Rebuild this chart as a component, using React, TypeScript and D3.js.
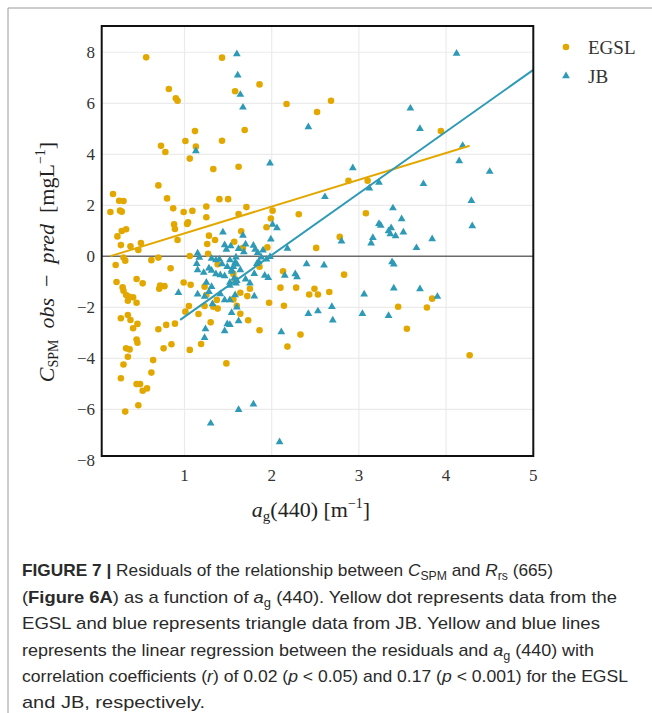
import React from "react";
import * as d3 from "d3";

const egslX = [0.56,1.43,0.82,0.90,0.92,1.58,1.12,1.01,1.43,0.73,0.78,1.13,1.06,1.33,1.62,1.86,2.17,2.52,2.68,1.69,3.94,3.10,2.88,3.84,3.45,3.78,3.55,4.27,
1.71,2.01,2.31,3.08,1.99,1.50,1.94,1.65,1.57,2.78,1.67,1.95,2.51,1.86,2.13,2.83,1.56,1.58,1.75,1.64,1.72,2.10,2.28,2.49,2.43,2.53,2.66,1.97,2.14,
1.64,1.73,1.86,2.33,2.18,
0.27,0.35,0.38,0.41,0.46,0.33,0.37,0.45,0.46,0.35,0.30,0.27,0.64,0.62,0.45,0.49,0.52,0.57,0.47,0.32,0.70,0.79,0.89,0.76,0.85,1.06,1.01,1.05,1.16,1.19,1.30,1.38,1.23,1.48,0.35,0.45,
0.70,0.18,0.80,0.25,0.30,0.15,0.26,0.28,0.87,0.99,1.09,1.25,1.40,1.62,1.25,1.04,1.03,0.88,0.89,0.92,0.28,0.33,0.23,0.27,0.38,0.50,0.47,0.30,0.32,0.21,0.62,0.70,1.06,1.26,1.35,1.28,1.27,1.38,0.84,0.22,0.29,0.30,0.33,0.36,0.41,0.45,0.52,0.72,0.77,0.71,0.99,1.07,1.23,1.25,1.37,1.56,1.60,1.33];
const egslY = [7.80,7.79,6.56,6.20,6.10,6.47,4.91,4.52,4.53,4.33,4.09,4.30,3.83,3.42,3.51,6.74,5.97,5.66,6.10,4.95,4.91,2.96,2.96,-1.66,-1.98,-2.01,-2.84,-3.88,
1.93,1.79,1.65,1.69,1.48,2.24,1.14,0.98,0.57,0.76,0.33,0.35,0.33,-0.41,-0.59,-0.72,-0.69,-0.90,-1.27,-1.43,-1.56,-1.23,-1.23,-1.27,-1.50,-1.50,-1.40,-1.82,-1.94,
-2.25,-2.51,-2.90,-3.07,-3.54,
-2.43,-2.30,-2.50,-2.82,-2.65,-3.61,-3.65,-3.26,-3.39,-3.94,-4.24,-4.78,-4.07,-4.56,-5.01,-5.01,-5.27,-5.18,-5.84,-6.09,-2.86,-2.69,-2.64,-3.61,-3.45,-3.67,-2.17,-1.95,-2.26,-3.44,-2.59,-2.05,-1.95,-4.20,-1.74,-1.82,
2.78,2.44,2.27,2.18,2.17,1.74,1.79,1.75,1.88,1.74,1.78,1.95,2.24,1.66,1.53,1.33,1.27,1.25,1.07,0.64,0.99,1.06,0.78,0.44,0.39,0.52,0.25,-0.05,-0.17,-0.34,-0.15,-0.05,0.01,0.48,0.64,0.81,0.10,-0.31,-0.47,-1.01,-1.22,-1.35,-1.52,-1.58,-1.61,-0.89,-1.06,-1.15,-1.17,-1.27,-1.03,-1.12,-1.19,-1.52,-1.71,-1.69,-1.94,-1.98];

const jbX = [1.60,1.61,1.64,1.67,2.42,1.13,1.98,2.93,4.12,3.59,3.70,4.19,4.15,4.50,3.74,3.23,4.29,3.39,3.49,3.23,3.25,3.37,4.30,3.16,3.34,3.36,3.42,3.51,3.84,3.66,3.14,3.38,3.40,3.40,3.70,3.90,3.34,
3.12,2.61,2.01,2.06,1.67,1.99,2.80,1.53,1.70,1.62,1.79,1.81,1.90,1.84,1.68,2.18,1.88,1.98,1.94,1.85,1.83,1.58,1.56,1.64,1.54,2.40,2.60,2.27,2.29,2.15,1.80,1.92,1.96,1.70,1.60,1.59,1.75,1.52,1.58,1.80,3.06,2.69,1.52,
2.42,2.53,2.70,3.04,1.62,1.54,1.52,2.11,1.62,1.79,2.09,
1.24,1.23,1.49,1.46,1.30,
1.44,1.46,1.48,1.15,1.17,1.14,1.31,1.36,1.40,1.43,1.52,1.49,1.59,1.60,1.28,1.31,1.15,1.22,1.36,1.41,1.46,1.54,1.57,1.25,1.31,1.52,0.93,1.15,1.28,1.23,1.41,1.32,1.46,1.60];
const jbY = [7.93,7.10,6.34,5.84,5.07,4.13,3.65,3.46,7.95,5.80,5.00,4.34,3.74,3.32,2.84,2.89,2.18,1.89,1.46,1.28,1.21,1.11,1.19,0.73,0.99,0.87,0.80,0.94,0.68,0.33,0.51,-0.22,-0.31,-1.25,-1.28,-1.58,-2.33,
2.67,2.33,1.25,1.11,0.82,0.67,0.59,0.40,0.47,0.30,0.42,0.27,0.24,0.14,0.17,0.31,-0.04,-0.02,-0.12,-0.21,-0.29,-0.24,-0.41,-0.54,-0.54,-0.30,-0.35,-0.69,-0.81,-0.75,-0.68,-0.75,-0.84,-0.90,-0.96,-1.06,-1.06,-1.15,-1.52,-1.57,-1.49,-1.98,-1.71,
-2.25,-2.15,-2.51,-2.25,-2.54,-2.21,-2.68,-2.97,-6.02,-5.80,-7.28,
-2.85,-3.19,-2.65,-2.93,-6.55,
0.94,0.44,0.27,0.12,-0.05,-0.29,-0.09,-0.15,-0.12,-0.30,-0.15,-0.41,-0.04,-0.31,-0.47,-0.56,-0.54,-0.64,-0.69,-0.73,-0.77,-0.60,-0.86,-1.03,-1.19,-1.03,-1.43,-1.49,-1.39,-1.58,-1.48,-1.87,-1.71,-2.00];

// regression lines: [slope, intercept], x range
const egslFit = [1.05, -0.15];
const egslFitRange = [0.15, 4.27];
const jbFit = [2.42, -4.79];
const jbFitRange = [0.95, 5.0];

const xTicks = [1, 2, 3, 4, 5];
const yTicks = [-8, -6, -4, -2, 0, 2, 4, 6, 8];
const seriesNames = ["EGSL", "JB"];

const YELLOW = "#E3A800";
const BLUE = "#2E9AB6";
const SERIF = "'Liberation Serif', 'DejaVu Serif', serif";
const SANS = "'Liberation Sans', Arial, sans-serif";

export default function App() {
  const L = 101.7, R = 533.3, T = 26, B = 456;
  const x = d3.scaleLinear().domain([0.05, 5]).range([L, R]);
  const y = d3.scaleLinear().domain([-7.83, 9.03]).range([B, T]);
  const tri = d3.symbol().type(d3.symbolTriangle).size(26)();

  const fitPath = (fit: number[], rng: number[]) =>
    d3.line<number>().x((v) => x(v)).y((v) => y(fit[0] * v + fit[1]))(rng);

  const capLines = [
    { y: 576, len: 531 },
    { y: 602.5, len: 595 },
    { y: 629, len: 578 },
    { y: 655.5, len: 572 },
    { y: 682, len: 606 },
    { y: 707.5, len: 183 },
  ];

  return (
    <svg width={652} height={713} style={{ position: "absolute", left: 0, top: 0, background: "#fff" }}>
      {/* outer frame */}
      <line x1={8} y1={8} x2={652} y2={8} stroke="#9a9a9a" strokeWidth={1} />
      <line x1={8} y1={8} x2={8} y2={713} stroke="#9a9a9a" strokeWidth={1} />

      {/* grid */}
      {xTicks.filter((t) => t < 5).map((t) => (
        <line key={"gx" + t} x1={x(t)} x2={x(t)} y1={T} y2={B} stroke="#ebebeb" strokeWidth={1.2} />
      ))}
      {yTicks.filter((t) => t > -8 && t !== 0).map((t) => (
        <line key={"gy" + t} x1={L} x2={R} y1={y(t)} y2={y(t)} stroke="#ebebeb" strokeWidth={1.2} />
      ))}
      <line x1={L} x2={R} y1={y(0)} y2={y(0)} stroke="#6b6b6b" strokeWidth={1.6} />

      {/* points */}
      {egslX.map((v, i) => (
        <circle key={"e" + i} cx={x(v)} cy={y(egslY[i])} r={3.3} fill={YELLOW} />
      ))}
      {jbX.map((v, i) => (
        <path key={"j" + i} d={tri} transform={`translate(${x(v)},${y(jbY[i])})`} fill={BLUE} />
      ))}

      {/* fits */}
      <path d={fitPath(egslFit, egslFitRange) || ""} stroke={YELLOW} strokeWidth={2} fill="none" />
      <path d={fitPath(jbFit, jbFitRange) || ""} stroke={BLUE} strokeWidth={2} fill="none" />

      {/* frame */}
      <rect x={L} y={T} width={R - L} height={B - T} fill="none" stroke="#111" strokeWidth={2} />

      {/* tick labels */}
      {yTicks.map((t) => (
        <text key={"yl" + t} x={95} y={y(t)} dy="0.35em" textAnchor="end" fontFamily={SERIF} fontSize={17} fill="#333">
          {t < 0 ? "\u2212" + Math.abs(t) : t}
        </text>
      ))}
      {xTicks.map((t) => (
        <text key={"xl" + t} x={x(t)} y={481} textAnchor="middle" fontFamily={SERIF} fontSize={17} fill="#333">
          {t}
        </text>
      ))}

      {/* axis titles */}
      <text x={311} y={517} textAnchor="middle" fontFamily={SERIF} fontSize={22} fill="#222">
        <tspan fontStyle="italic">a</tspan>
        <tspan fontSize={15} dy={4}>g</tspan>
        <tspan dy={-4}>(440) [m</tspan>
        <tspan fontSize={14} dy={-9}>{"\u22121"}</tspan>
        <tspan dy={9}>]</tspan>
      </text>
      <text transform="translate(54,262) rotate(-90)" textAnchor="middle" fontFamily={SERIF} fontSize={22} fill="#222">
        <tspan fontStyle="italic">C</tspan>
        <tspan fontSize={14} dy={4}>SPM</tspan>
        <tspan dy={-4} fontStyle="italic">{"\u2002obs\u2002"}</tspan>
        <tspan>{"\u2212"}</tspan>
        <tspan fontStyle="italic">{"\u2002pred\u2002"}</tspan>
        <tspan>[mgL</tspan>
        <tspan fontSize={14} dy={-9}>{"\u22121"}</tspan>
        <tspan dy={9}>]</tspan>
      </text>

      {/* legend */}
      <circle cx={566} cy={47} r={3.3} fill={YELLOW} />
      <text x={588} y={53.5} fontFamily={SERIF} fontSize={19} fill="#333">{seriesNames[0]}</text>
      <path d={tri} transform="translate(566,76)" fill={BLUE} />
      <text x={588} y={82.5} fontFamily={SERIF} fontSize={19} fill="#333">{seriesNames[1]}</text>

      {/* caption */}
      <g fontFamily={SANS} fontSize={17} fill="#2a2a2a">
        <text x={22} y={capLines[0].y} textLength={capLines[0].len} lengthAdjust="spacingAndGlyphs">
          <tspan fontWeight="bold">FIGURE 7 | </tspan>Residuals of the relationship between <tspan fontStyle="italic">C</tspan><tspan fontSize={12} dy={4}>SPM</tspan><tspan dy={-4}> and </tspan><tspan fontStyle="italic">R</tspan><tspan fontSize={12} dy={4}>rs</tspan><tspan dy={-4}> (665)</tspan>
        </text>
        <text x={22} y={capLines[1].y} textLength={capLines[1].len} lengthAdjust="spacingAndGlyphs">
          (<tspan fontWeight="bold">Figure 6A</tspan>) as a function of <tspan fontStyle="italic">a</tspan><tspan fontSize={12} dy={4}>g</tspan><tspan dy={-4}> (440). Yellow dot represents data from the</tspan>
        </text>
        <text x={22} y={capLines[2].y} textLength={capLines[2].len} lengthAdjust="spacingAndGlyphs">
          EGSL and blue represents triangle data from JB. Yellow and blue lines
        </text>
        <text x={22} y={capLines[3].y} textLength={capLines[3].len} lengthAdjust="spacingAndGlyphs">
          represents the linear regression between the residuals and <tspan fontStyle="italic">a</tspan><tspan fontSize={12} dy={4}>g</tspan><tspan dy={-4}> (440) with</tspan>
        </text>
        <text x={22} y={capLines[4].y} textLength={capLines[4].len} lengthAdjust="spacingAndGlyphs">
          correlation coefficients (<tspan fontStyle="italic">r</tspan>) of 0.02 (<tspan fontStyle="italic">p</tspan> {"<"} 0.05) and 0.17 (<tspan fontStyle="italic">p</tspan> {"<"} 0.001) for the EGSL
        </text>
        <text x={22} y={capLines[5].y} textLength={capLines[5].len} lengthAdjust="spacingAndGlyphs">
          and JB, respectively.
        </text>
      </g>
    </svg>
  );
}
